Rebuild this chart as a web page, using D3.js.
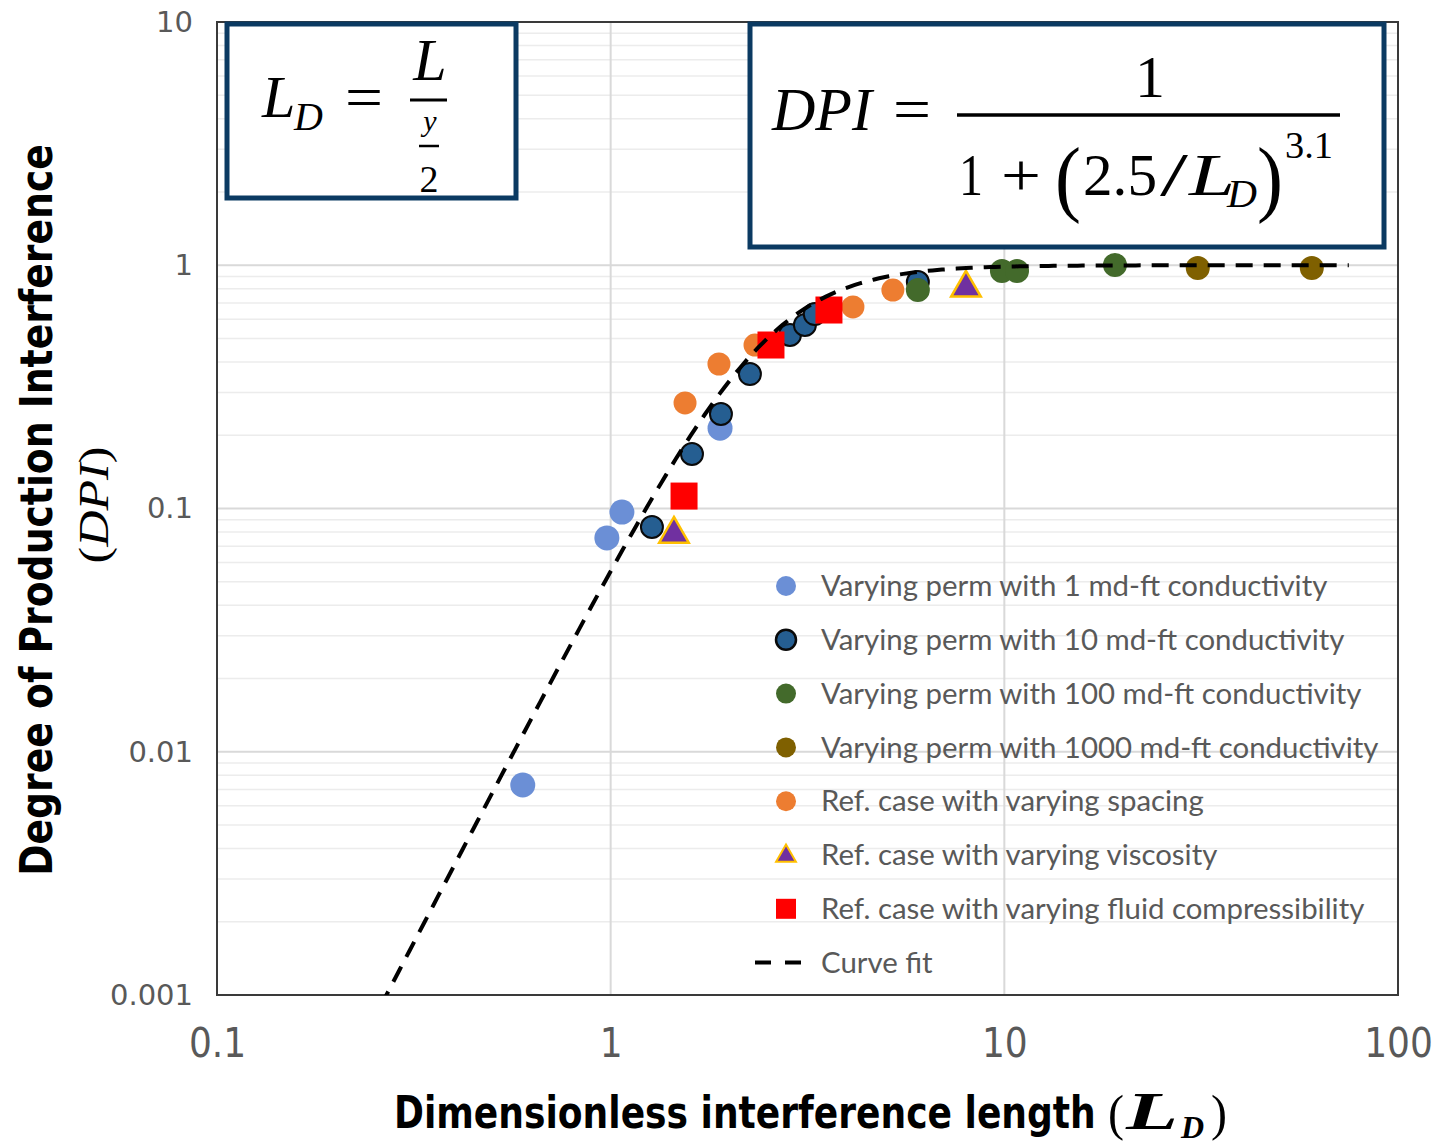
<!DOCTYPE html>
<html>
<head>
<meta charset="utf-8">
<script src="https://cdn.jsdelivr.net/npm/d3@7"></script>
<style>
  html, body { margin: 0; padding: 0; background: #fff; }
  svg { display: block; }
</style>
</head>
<body>
<svg id="chart"></svg>
<script>
// ---- data (LD, DPI) ----
const perm1LD = [0.598, 0.978, 1.068, 1.896];
const perm1DPI = [0.0073, 0.0757, 0.0967, 0.214];

const perm10LD = [1.273, 1.609, 1.906, 2.258, 2.854, 3.115, 3.30, 6.03];
const perm10DPI = [0.0839, 0.1675, 0.2446, 0.357, 0.517, 0.568, 0.630, 0.853];

const perm100LD = [6.03, 9.86, 10.77, 19.1];
const perm100DPI = [0.791, 0.947, 0.947, 1.002];

const perm1000LD = [31.0, 60.4];
const perm1000DPI = [0.974, 0.974];

const spacingLD = [1.545, 1.884, 2.326, 4.125, 5.21];
const spacingDPI = [0.2716, 0.3927, 0.470, 0.6737, 0.791];

const viscosityLD = [1.448, 7.99];
const viscosityDPI = [0.080, 0.822];

const compressLD = [1.536, 2.554, 3.585];
const compressDPI = [0.1125, 0.470, 0.6546];

// curve fit DPI = 1 / (1 + (a/LD)^b), as written in the chart
const fitA = 2.5;
const fitB = 3.1;
const fitLDRange = [0.26, 75];

const xTicks = [0.1, 1, 10, 100];
const xTickLabels = ['0.1', '1', '10', '100'];
const yTicks = [0.001, 0.01, 0.1, 1, 10];
const yTickLabels = ['0.001', '0.01', '0.1', '1', '10'];

const legendLabels = [
  'Varying perm with 1 md-ft conductivity',
  'Varying perm with 10 md-ft conductivity',
  'Varying perm with 100 md-ft conductivity',
  'Varying perm with 1000 md-ft conductivity',
  'Ref. case with varying spacing',
  'Ref. case with varying viscosity',
  'Ref. case with varying fluid compressibility',
  'Curve fit'
];

// ---- layout ----
const W = 1435, H = 1146;
const margin = {top: 22, right: 37, bottom: 151, left: 217};
const width = W - margin.left - margin.right;
const height = H - margin.top - margin.bottom;

const svg = d3.select('#chart').attr('width', W).attr('height', H);
svg.append('rect').attr('width', W).attr('height', H).attr('fill', '#fff');

const x = d3.scaleLog().domain([0.1, 100]).range([0, width]);
const y = d3.scaleLog().domain([0.001, 10]).range([height, 0]);

const chart = svg.append('g')
    .attr('transform', 'translate(' + margin.left + ',' + margin.top + ')');

svg.append('defs').append('clipPath').attr('id', 'plotClip')
  .append('rect').attr('x', margin.left).attr('y', margin.top)
  .attr('width', width).attr('height', height);

// minor + major gridlines (horizontal), major only (vertical)
const yMinor = [];
[0.001, 0.01, 0.1, 1].forEach(d => {
  for (let k = 2; k <= 9; k++) yMinor.push(d * k);
});
chart.append('g').selectAll('line').data(yMinor).join('line')
    .attr('x1', 0).attr('x2', width)
    .attr('y1', d => y(d)).attr('y2', d => y(d))
    .attr('stroke', '#ececec').attr('stroke-width', 1.5);

chart.append('g').selectAll('line').data(yTicks.slice(1, -1)).join('line')
    .attr('x1', 0).attr('x2', width)
    .attr('y1', d => y(d)).attr('y2', d => y(d))
    .attr('stroke', '#d9d9d9').attr('stroke-width', 2);

chart.append('g').selectAll('line').data(xTicks.slice(1, -1)).join('line')
    .attr('y1', 0).attr('y2', height)
    .attr('x1', d => x(d)).attr('x2', d => x(d))
    .attr('stroke', '#d9d9d9').attr('stroke-width', 2);

// axes: labels only
const xAxis = d3.axisBottom(x).tickValues(xTicks)
    .tickFormat((d, i) => xTickLabels[i]).tickSize(0).tickPadding(49);
const yAxis = d3.axisLeft(y).tickValues(yTicks)
    .tickFormat((d, i) => yTickLabels[i]).tickSize(0).tickPadding(24);

const gx = chart.append('g').attr('transform', 'translate(0,' + height + ')').call(xAxis);
gx.select('.domain').remove();
gx.selectAll('text')
    .attr('font-family', '"Liberation Sans Narrow", "DejaVu Sans Condensed", sans-serif')
    .attr('font-size', 40).attr('fill', '#595959').attr('dy', '0.32em');

const gy = chart.append('g').call(yAxis);
gy.select('.domain').remove();
gy.selectAll('text')
    .attr('font-family', '"DejaVu Sans", sans-serif')
    .attr('font-size', 29).attr('fill', '#595959');

// curve fit
const fitLD = d3.range(0, 201).map(i =>
  fitLDRange[0] * Math.pow(fitLDRange[1] / fitLDRange[0], i / 200));
const fitLine = d3.line()
    .x(d => x(d))
    .y(d => y(1 / (1 + Math.pow(fitA / d, fitB))));

svg.append('g').attr('clip-path', 'url(#plotClip)')
  .append('path')
    .datum(fitLD)
    .attr('transform', 'translate(' + margin.left + ',' + margin.top + ')')
    .attr('d', fitLine)
    .attr('fill', 'none')
    .attr('stroke', '#000')
    .attr('stroke-width', 4)
    .attr('stroke-dasharray', '17,11');

// series
function zip(a, b) { return a.map((v, i) => [v, b[i]]); }

const circleSeries = [
  {pts: zip(perm1LD, perm1DPI), fill: '#6b8fd6', stroke: 'none', r: 12.5},
  {pts: zip(perm10LD, perm10DPI), fill: '#255e91', stroke: '#0a0a0a', r: 11},
  {pts: zip(perm100LD, perm100DPI), fill: '#436a2b', stroke: 'none', r: 12},
  {pts: zip(perm1000LD, perm1000DPI), fill: '#7f6000', stroke: 'none', r: 12},
  {pts: zip(spacingLD, spacingDPI), fill: '#ed7d31', stroke: 'none', r: 11.5}
];

circleSeries.forEach(s => {
  chart.append('g').selectAll('circle').data(s.pts).join('circle')
      .attr('cx', d => x(d[0])).attr('cy', d => y(d[1]))
      .attr('r', s.r)
      .attr('fill', s.fill)
      .attr('stroke', s.stroke)
      .attr('stroke-width', 2);
});

const triSym = d3.symbol().type(d3.symbolTriangle).size(380);
chart.append('g').selectAll('path').data(zip(viscosityLD, viscosityDPI)).join('path')
    .attr('transform', d => 'translate(' + x(d[0]) + ',' + (y(d[1]) + 2) + ')')
    .attr('d', triSym)
    .attr('fill', '#7030a0').attr('stroke', '#ffc000').attr('stroke-width', 2.5);

const sq = 27;
chart.append('g').selectAll('rect').data(zip(compressLD, compressDPI)).join('rect')
    .attr('x', d => x(d[0]) - sq / 2).attr('y', d => y(d[1]) - sq / 2)
    .attr('width', sq).attr('height', sq)
    .attr('fill', '#ff0000');

// plot frame
chart.append('rect').attr('width', width).attr('height', height)
    .attr('fill', 'none').attr('stroke', '#3a3a3a').attr('stroke-width', 2);

// legend
const legend = svg.append('g').attr('transform', 'translate(786,586)');
const rowH = 53.8;
legendLabels.forEach((lab, i) => {
  const g = legend.append('g').attr('transform', 'translate(0,' + (i * rowH) + ')');
  if (i < 5) {
    const s = circleSeries[i];
    g.append('circle').attr('r', 10).attr('fill', s.fill)
        .attr('stroke', s.stroke).attr('stroke-width', 2.5);
  } else if (i === 5) {
    g.append('path').attr('d', d3.symbol().type(d3.symbolTriangle).size(170))
        .attr('transform', 'translate(0,1)')
        .attr('fill', '#7030a0').attr('stroke', '#ffc000').attr('stroke-width', 2);
  } else if (i === 6) {
    g.append('rect').attr('x', -10).attr('y', -10).attr('width', 20).attr('height', 20)
        .attr('fill', '#ff0000');
  } else {
    g.append('line').attr('x1', -31).attr('x2', 16).attr('y1', 0).attr('y2', 0)
        .attr('stroke', '#000').attr('stroke-width', 4).attr('stroke-dasharray', '16,14');
  }
  g.append('text').attr('x', 35).attr('y', 0).attr('dy', '0.35em')
      .attr('font-family', 'Lato, "Open Sans", sans-serif')
      .attr('font-size', 29.4).attr('fill', '#595959')
      .text(lab);
});

// fit a text's natural width to a target by squeezing it horizontally
function squeeze(textSel, target) {
  const w = textSel.node().getComputedTextLength();
  return w > 0 ? target / w : 1;
}

// axis titles
const titleFont = '"Liberation Sans Narrow", "DejaVu Sans Condensed", sans-serif';
const yTitleG = svg.append('g');
const yTitle = yTitleG.append('text').attr('text-anchor', 'middle')
    .attr('font-family', titleFont)
    .attr('font-weight', 'bold').attr('font-size', 44)
    .text('Degree of Production Interference');
yTitleG.attr('transform', 'translate(52,510) rotate(-90) scale(' + squeeze(yTitle, 732) + ',1)');

const dpiG = svg.append('g');
const dpiLab = dpiG.append('text').attr('text-anchor', 'middle')
    .attr('font-family', '"Liberation Serif", serif').attr('font-size', 42);
dpiLab.append('tspan').text('(');
dpiLab.append('tspan').attr('font-style', 'italic').text('DPI');
dpiLab.append('tspan').text(')');
dpiG.attr('transform', 'translate(108,505) rotate(-90) scale(' + squeeze(dpiLab, 117) + ',1)');

const xTitleG = svg.append('g');
const xTitle = xTitleG.append('text')
    .attr('font-family', titleFont)
    .attr('font-weight', 'bold').attr('font-size', 44)
    .text('Dimensionless interference length');
xTitleG.attr('transform', 'translate(394,1128) scale(' + squeeze(xTitle, 702) + ',1)');

// glyph by glyph pieces of the formulas
function piece(str, xp, yp, size, opts) {
  const t = svg.append('text').attr('x', xp).attr('y', yp)
      .attr('font-family', '"Liberation Serif", "DejaVu Serif", serif')
      .attr('font-size', size).attr('fill', '#000')
      .attr('font-style', opts.italic ? 'italic' : 'normal')
      .attr('font-weight', opts.bold ? 'bold' : 'normal')
      .attr('text-anchor', opts.anchor || 'start')
      .text(str);
  if (opts.len) t.attr('textLength', opts.len).attr('lengthAdjust', 'spacingAndGlyphs');
  return t;
}
// (L_D) of the x title
piece('(', 1108, 1130, 50, {len: 16});
const ldG = svg.append('g');
const ldL = ldG.append('text')
    .attr('font-family', '"Liberation Serif", "DejaVu Serif", serif')
    .attr('font-size', 52).attr('font-style', 'italic').attr('font-weight', 'bold')
    .text('L');
ldG.attr('transform', 'translate(1126,1129) scale(' + squeeze(ldL, 52) + ',1)');
piece('D', 1181, 1138, 32, {italic: true, bold: true});
piece(')', 1211, 1130, 50, {len: 16});

// equation boxes
const navy = '#0b3a62';

const box1 = svg.append('g');
box1.append('rect').attr('x', 227).attr('y', 24).attr('width', 289).attr('height', 174)
    .attr('fill', '#fff').attr('stroke', navy).attr('stroke-width', 5);
piece('L', 262, 117, 60, {italic: true});
piece('D', 294, 130, 40, {italic: true});
piece('=', 345, 117, 60, {len: 38});
piece('L', 430, 80, 60, {italic: true, anchor: 'middle'});
box1.append('line').attr('x1', 410).attr('x2', 447).attr('y1', 100).attr('y2', 100)
    .attr('stroke', '#000').attr('stroke-width', 3);
piece('y', 430, 131, 30, {italic: true, anchor: 'middle'});
box1.append('line').attr('x1', 419).attr('x2', 439).attr('y1', 146).attr('y2', 146)
    .attr('stroke', '#000').attr('stroke-width', 2.5);
piece('2', 429, 192, 38, {anchor: 'middle'});

const box2 = svg.append('g');
box2.append('rect').attr('x', 750).attr('y', 24).attr('width', 634).attr('height', 223)
    .attr('fill', '#fff').attr('stroke', navy).attr('stroke-width', 5);
piece('DPI', 772, 130, 62, {italic: true, len: 100});
piece('=', 893, 130, 62, {len: 38});
piece('1', 1150, 97, 60, {anchor: 'middle'});
box2.append('line').attr('x1', 957).attr('x2', 1340).attr('y1', 115).attr('y2', 115)
    .attr('stroke', '#000').attr('stroke-width', 3.5);
piece('1', 959, 195, 60, {len: 24});
piece('+', 1001, 195, 60, {len: 40});
piece('(', 1055, 206, 84, {len: 26});
piece('2.5', 1083, 195, 60, {len: 74});
piece('/', 1160, 195, 62, {len: 28});
piece('L', 1189, 195, 60, {italic: true, len: 46});
piece('D', 1227, 207, 40, {italic: true, len: 30});
piece(')', 1257, 206, 84, {len: 26});
piece('3.1', 1285, 158, 38, {len: 48});
</script>
</body>
</html>
